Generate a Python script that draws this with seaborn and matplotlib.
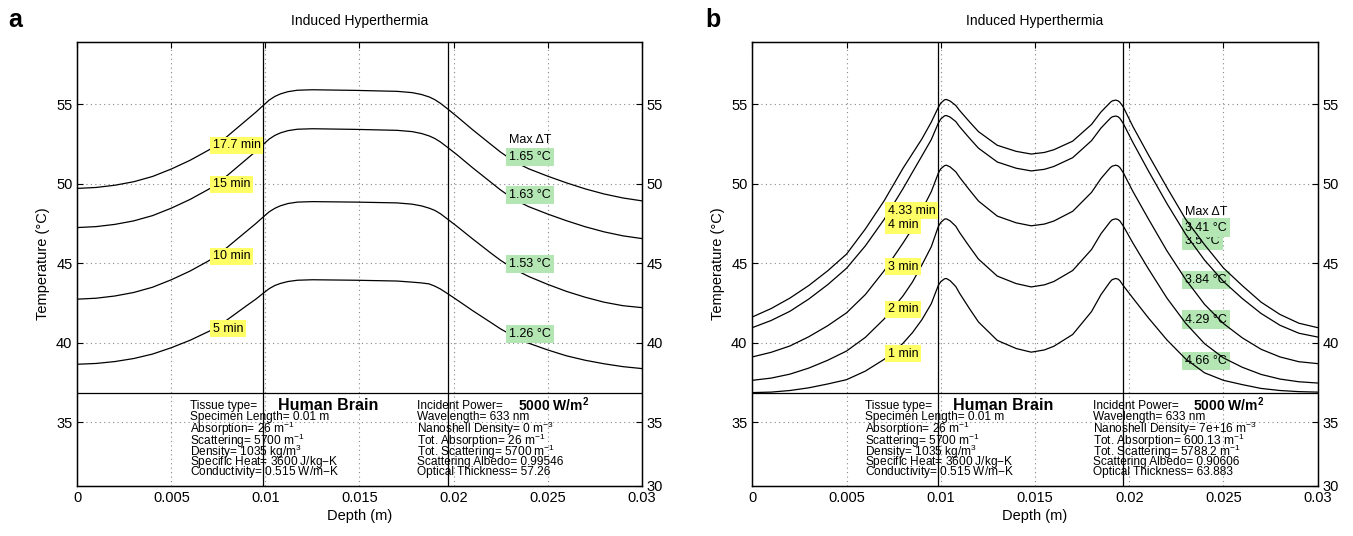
import numpy as np
import pandas as pd
import matplotlib.pyplot as plt
import seaborn as sns

# ---- panel a: no nanoshells ----
depth_a = [0, 0.001, 0.002, 0.003, 0.004, 0.005, 0.006, 0.007, 0.0075, 0.008, 0.0085, 0.009, 0.0095,
           0.00987, 0.0102, 0.0105, 0.0108, 0.0112, 0.0117, 0.0125, 0.0148, 0.017, 0.0178, 0.0183,
           0.0187, 0.019, 0.0193, 0.01968, 0.0202, 0.021, 0.022, 0.0225, 0.023, 0.0235, 0.024,
           0.025, 0.026, 0.027, 0.028, 0.029, 0.03]
temp_a_5 = [38.65, 38.70, 38.82, 39.01, 39.29, 39.69, 40.16, 40.72, 41.04, 41.47, 41.9, 42.33, 42.75,
            43.1, 43.4, 43.6, 43.73, 43.85, 43.93, 43.96, 43.93, 43.88, 43.81, 43.76,
            43.7, 43.56, 43.38, 43.09, 42.68, 42.03, 41.26, 40.87, 40.54, 40.22, 39.97,
            39.55, 39.18, 38.9, 38.68, 38.5, 38.38]
temp_a_10 = [42.74, 42.8, 42.94, 43.16, 43.49, 43.96, 44.51, 45.16, 45.54, 46.03, 46.52, 47.01, 47.5,
             47.89, 48.23, 48.45, 48.61, 48.75, 48.84, 48.87, 48.84, 48.79, 48.71, 48.6,
             48.46, 48.32, 48.11, 47.77, 47.3, 46.54, 45.62, 45.18, 44.8, 44.46, 44.16,
             43.67, 43.23, 42.86, 42.55, 42.33, 42.21]
temp_a_15 = [47.24, 47.3, 47.44, 47.66, 47.99, 48.46, 49.01, 49.66, 50.04, 50.54, 51.04, 51.54, 52.04,
             52.45, 52.8, 53.03, 53.19, 53.33, 53.42, 53.45, 53.41, 53.35, 53.27, 53.15,
             53.0, 52.84, 52.62, 52.28, 51.8, 51.01, 50.07, 49.6, 49.19, 48.84, 48.55,
             48.09, 47.67, 47.29, 46.97, 46.72, 46.55]
temp_a_177 = [49.70, 49.76, 49.9, 50.12, 50.45, 50.92, 51.47, 52.12, 52.5, 53.0, 53.5, 54.0, 54.5,
              54.9, 55.25, 55.48, 55.64, 55.78, 55.87, 55.9, 55.86, 55.8, 55.72, 55.6,
              55.45, 55.28, 55.05, 54.7, 54.2, 53.4, 52.45, 51.98, 51.57, 51.22, 50.93,
              50.47, 50.05, 49.67, 49.35, 49.1, 48.92]
times_a = ['5 min', '10 min', '15 min', '17.7 min']
dT_a = ['1.26 °C', '1.53 °C', '1.63 °C', '1.65 °C']

# ---- panel b: with nanoshells ----
depth_b = [0, 0.001, 0.002, 0.003, 0.004, 0.005, 0.006, 0.007, 0.008, 0.0085, 0.009, 0.0095, 0.00987,
           0.0100, 0.0102, 0.0103, 0.0105, 0.0108, 0.011, 0.0115, 0.012, 0.013, 0.014, 0.0148,
           0.0155, 0.016, 0.017, 0.018, 0.0185, 0.019, 0.0191, 0.01928, 0.0194, 0.0195, 0.01968,
           0.0202, 0.021, 0.022, 0.023, 0.024, 0.025, 0.026, 0.027, 0.028, 0.029, 0.03]
temp_b_1 = [36.87, 36.90, 37.00, 37.17, 37.41, 37.68, 38.22, 38.96, 39.97, 40.64, 41.45, 42.46, 43.6,
            43.84, 44.02, 44.04, 43.90, 43.53, 43.11, 42.19, 41.31, 40.15, 39.64, 39.41,
            39.55, 39.78, 40.52, 41.96, 43.02, 43.85, 43.97, 44.04, 44.0, 43.91, 43.6,
            42.8, 41.59, 40.18, 38.98, 38.11, 37.64, 37.37, 37.13, 37.0, 36.93, 36.9]
temp_b_2 = [37.64, 37.78, 38.03, 38.41, 38.90, 39.48, 40.34, 41.50, 42.95, 43.82, 44.89, 46.04, 47.3,
            47.56, 47.77, 47.79, 47.66, 47.32, 46.93, 46.08, 45.26, 44.19, 43.72, 43.51,
            43.64, 43.85, 44.54, 45.86, 46.85, 47.62, 47.73, 47.79, 47.75, 47.66, 47.35,
            46.26, 44.68, 42.81, 41.22, 39.94, 39.05, 38.46, 38.01, 37.72, 37.55, 37.47]
temp_b_3 = [39.11, 39.40, 39.80, 40.38, 41.07, 41.88, 43.03, 44.53, 46.27, 47.19, 48.34, 49.50, 50.65,
            50.93, 51.13, 51.16, 51.05, 50.74, 50.40, 49.64, 48.91, 47.96, 47.54, 47.35,
            47.46, 47.65, 48.26, 49.45, 50.32, 51.01, 51.10, 51.16, 51.12, 51.02, 50.7,
            49.5, 47.82, 45.78, 43.97, 42.41, 41.21, 40.31, 39.59, 39.11, 38.81, 38.69]
temp_b_4 = [40.95, 41.40, 41.98, 42.75, 43.65, 44.68, 46.09, 47.76, 49.69, 50.72, 51.74, 52.77, 53.8,
            54.06, 54.26, 54.28, 54.18, 53.9, 53.58, 52.89, 52.23, 51.36, 50.97, 50.8,
            50.90, 51.08, 51.63, 52.70, 53.49, 54.11, 54.2, 54.25, 54.21, 54.11, 53.79,
            52.58, 50.84, 48.75, 46.81, 45.19, 43.85, 42.78, 41.84, 41.10, 40.6, 40.36]
temp_b_433 = [41.62, 42.15, 42.81, 43.6, 44.52, 45.57, 47.15, 48.93, 50.97, 51.89, 52.81, 53.87, 54.79,
              55.06, 55.27, 55.29, 55.19, 54.91, 54.6, 53.92, 53.27, 52.41, 52.03, 51.86,
              51.96, 52.13, 52.67, 53.72, 54.5, 55.11, 55.2, 55.25, 55.21, 55.12, 54.83,
              53.58, 51.85, 49.76, 47.75, 46.16, 44.7, 43.59, 42.55, 41.78, 41.23, 40.95]
times_b = ['1 min', '2 min', '3 min', '4 min', '4.33 min']
dT_b = ['4.66 °C', '4.29 °C', '3.84 °C', '3.5 °C', '3.41 °C']

initial_temp = 36.85
layer_bounds = [0.00987, 0.01968]

# label placement (data coords)
lab_y_a = [40.89, 45.44, 49.97, 52.42]
dT_y_a = [40.53, 44.94, 49.28, 51.69]
lab_y_b = [39.32, 42.11, 44.77, 47.39, 48.29]
dT_y_b = [38.84, 41.46, 43.93, 46.38, 47.24]
maxdT_y = [52.74, 48.23]

info_left = ['Specimen Length= 0.01 m', 'Absorption= 26 m$^{-1}$', 'Scattering= 5700 m$^{-1}$',
             'Density= 1035 kg/m$^{3}$', 'Specific Heat= 3600 J/kg$-$K', 'Conductivity= 0.515 W/m$-$K']
info_right_a = ['Wavelength= 633 nm', 'Nanoshell Density= 0 m$^{-3}$', 'Tot. Absorption= 26 m$^{-1}$',
                'Tot. Scattering= 5700 m$^{-1}$', 'Scattering Albedo= 0.99546', 'Optical Thickness= 57.26']
info_right_b = ['Wavelength= 633 nm', 'Nanoshell Density= 7e+16 m$^{-3}$', 'Tot. Absorption= 600.13 m$^{-1}$',
                'Tot. Scattering= 5788.2 m$^{-1}$', 'Scattering Albedo= 0.90606', 'Optical Thickness= 63.883']

sns.set_style('white')
plt.rcParams['font.family'] = ['Liberation Sans', 'DejaVu Sans']
plt.rcParams['mathtext.fontset'] = 'custom'
plt.rcParams['mathtext.rm'] = 'Liberation Sans'
plt.rcParams['mathtext.it'] = 'Liberation Sans'
plt.rcParams['mathtext.bf'] = 'Liberation Sans:bold'
for key in ['text.color', 'axes.labelcolor', 'xtick.color', 'ytick.color', 'axes.edgecolor']:
    plt.rcParams[key] = 'black'

YELLOW = '#ffff66'
GREEN = '#b3e6b3'
YLIM = (31.0, 58.92)

fig = plt.figure(figsize=(13.53, 5.36), dpi=100)
ax_a = fig.add_axes([0.0571, 0.0933, 0.4172, 0.8289])
ax_b = fig.add_axes([0.5560, 0.0933, 0.4179, 0.8289])


def long_frame(depth, curves, names):
    rows = []
    for name, temps in zip(names, curves):
        rows.append(pd.DataFrame({'depth': depth, 'temp': temps, 'time': name}))
    return pd.concat(rows, ignore_index=True)


df_a = long_frame(depth_a, [temp_a_5, temp_a_10, temp_a_15, temp_a_177], times_a)
df_b = long_frame(depth_b, [temp_b_1, temp_b_2, temp_b_3, temp_b_4, temp_b_433], times_b)

panels = [
    (ax_a, df_a, times_a, lab_y_a, dT_a, dT_y_a, maxdT_y[0], info_right_a, 4),
    (ax_b, df_b, times_b, lab_y_b, dT_b, dT_y_b, maxdT_y[1], info_right_b, 2),
]

for ax, df, times, lab_y, dts, dts_y, mdt_y, info_right, box_z in panels:
    sns.lineplot(data=df, x='depth', y='temp', units='time', estimator=None, sort=False,
                 color='black', lw=0.9, ax=ax, zorder=3)
    ax.plot([0, 0.03], [initial_temp, initial_temp], color='black', lw=0.9, zorder=3)
    for xb in layer_bounds:
        ax.axvline(xb, color='black', lw=0.9, zorder=3)

    ax.set_xlim(0, 0.03)
    ax.set_ylim(*YLIM)
    ax.set_xticks([0, 0.005, 0.01, 0.015, 0.02, 0.025, 0.03])
    ax.set_xticklabels(['0', '0.005', '0.01', '0.015', '0.02', '0.025', '0.03'])
    ax.set_yticks([35, 40, 45, 50, 55])
    ax.grid(True, linestyle=(0, (1, 3)), color='#888888', lw=0.8)
    ax.tick_params(direction='in', top=True, right=True, labelsize=10.5, length=4, width=0.8)
    ax.set_xlabel('Depth (m)', fontsize=10.5, labelpad=3)
    ax.set_ylabel('Temperature (°C)', fontsize=10.5)
    ax.set_title('Induced Hyperthermia', fontsize=10, pad=12)
    for s in ax.spines.values():
        s.set_linewidth(1.0)

    twin = ax.twinx()
    twin.set_ylim(*YLIM)
    twin.set_yticks([YLIM[0], 35, 40, 45, 50, 55])
    twin.set_yticklabels(['30', '35', '40', '45', '50', '55'])
    twin.tick_params(direction='in', labelsize=10.5, length=4, width=0.8)

    for t, y in zip(times, lab_y):
        ax.text(0.0072, y, t, fontsize=9, va='center', ha='left', zorder=4,
                bbox=dict(boxstyle='square,pad=0.2', fc=YELLOW, ec='none'))
    ax.text(0.02295, mdt_y, 'Max ΔT', fontsize=9, va='center', ha='left', zorder=4)
    for t, y in zip(dts, dts_y):
        ax.text(0.02295, y, t, fontsize=9, va='center', ha='left', zorder=box_z,
                bbox=dict(boxstyle='square,pad=0.25', fc=GREEN, ec='none'))

    # parameter block
    lx, rx = 0.20, 0.602
    ys = [0.156, 0.129, 0.102, 0.077, 0.054, 0.031]
    ax.text(lx, 0.18, 'Tissue type=', transform=ax.transAxes, fontsize=8.6, va='center')
    ax.text(lx + 0.155, 0.182, 'Human Brain', transform=ax.transAxes, fontsize=11.5,
            fontweight='bold', va='center')
    ax.text(rx, 0.18, 'Incident Power=', transform=ax.transAxes, fontsize=8.6, va='center')
    ax.text(rx + 0.178, 0.184, r'5000 W/m$^{\mathbf{2}}$', transform=ax.transAxes, fontsize=10,
            fontweight='bold', va='center')
    for txt, y in zip(info_left, ys):
        ax.text(lx, y, txt, transform=ax.transAxes, fontsize=8.6, va='center')
    for txt, y in zip(info_right, ys):
        ax.text(rx, y, txt, transform=ax.transAxes, fontsize=8.6, va='center')

fig.text(0.006, 0.962, 'a', fontsize=18, fontweight='bold', va='center')
fig.text(0.521, 0.962, 'b', fontsize=18, fontweight='bold', va='center')

fig.savefig('out.png', dpi=100)
